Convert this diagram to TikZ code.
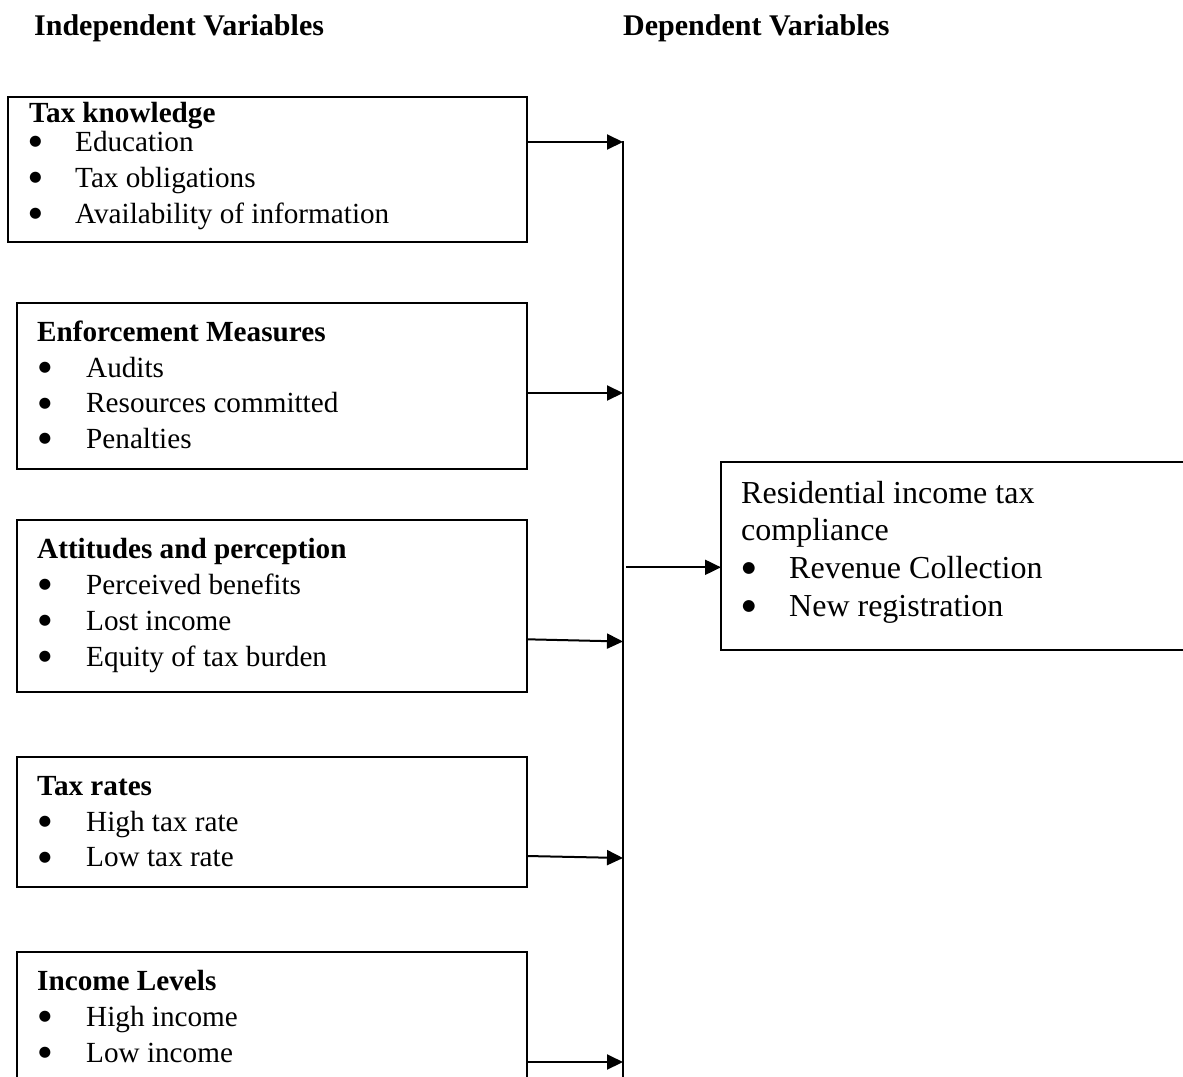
\documentclass[tikz,border=0pt]{standalone}
\usepackage{fontspec}
\setmainfont{Liberation Serif}
\newfontfamily\bulfont{DejaVu Sans}
\usetikzlibrary{arrows.meta}
\tikzset{
  boxnode/.style={draw, line width=2pt, inner sep=0pt, outer sep=0pt, anchor=north west},
  lefttxt/.style={anchor=base west, inner sep=0pt, font=\fontsize{29.2pt}{36pt}\selectfont},
  lefttitle/.style={anchor=base west, inner sep=0pt, font=\fontsize{29.2pt}{36pt}\selectfont\bfseries},
  bul/.style={anchor=base, inner sep=0pt, yshift=5.5pt, font=\bulfont\fontsize{14.5pt}{14.5pt}\selectfont},
  righttxt/.style={anchor=base west, inner sep=0pt, font=\fontsize{32pt}{38pt}\selectfont},
  rbul/.style={anchor=base, inner sep=0pt, yshift=6pt, font=\bulfont\fontsize{15.5pt}{15.5pt}\selectfont},
  head/.style={anchor=base west, inner sep=0pt, font=\fontsize{30pt}{36pt}\selectfont\bfseries},
  conn/.style={line width=2pt, -{Triangle[length=16pt,width=15pt]}},
  spine/.style={line width=1.6pt},
}
\begin{document}
\begin{tikzpicture}[x=1pt,y=-1pt]
\useasboundingbox (0,0) rectangle (1183,1076);
\clip (0,0) rectangle (1183,1076);
\fill[white] (0,0) rectangle (1183,1076);

% headers
\node[head] (hind) at (34,35) {Independent Variables};
\node[head] (hdep) at (623,35) {Dependent Variables};

% box 1
\node[boxnode, minimum width=519pt, minimum height=144.5pt] (b1) at (8,97) {};
\node[lefttitle] (b1t) at (29,122) {Tax knowledge};
\node[bul] (b1b1) at (35.5,151) {●};
\node[lefttxt] (b1i1) at (75,151) {Education};
\node[bul] (b1b2) at (35.5,187) {●};
\node[lefttxt] (b1i2) at (75,187) {Tax obligations};
\node[bul] (b1b3) at (35.5,223) {●};
\node[lefttxt] (b1i3) at (75,223) {Availability of information};

% box 2
\node[boxnode, minimum width=510pt, minimum height=166pt] (b2) at (17,303) {};
\node[lefttitle] (b2t) at (37,341.5) {Enforcement Measures};
\node[bul] (b2b1) at (45,377) {●};
\node[lefttxt] (b2i1) at (86,377) {Audits};
\node[bul] (b2b2) at (45,412.5) {●};
\node[lefttxt] (b2i2) at (86,412.5) {Resources committed};
\node[bul] (b2b3) at (45,448) {●};
\node[lefttxt] (b2i3) at (86,448) {Penalties};

% box 3
\node[boxnode, minimum width=510pt, minimum height=172pt] (b3) at (17,520) {};
\node[lefttitle] (b3t) at (37,558.5) {Attitudes and perception};
\node[bul] (b3b1) at (45,594) {●};
\node[lefttxt] (b3i1) at (86,594) {Perceived benefits};
\node[bul] (b3b2) at (45,630) {●};
\node[lefttxt] (b3i2) at (86,630) {Lost income};
\node[bul] (b3b3) at (45,666) {●};
\node[lefttxt] (b3i3) at (86,666) {Equity of tax burden};

% box 4
\node[boxnode, minimum width=510pt, minimum height=129.5pt] (b4) at (17,757) {};
\node[lefttitle] (b4t) at (37,795) {Tax rates};
\node[bul] (b4b1) at (45,831) {●};
\node[lefttxt] (b4i1) at (86,831) {High tax rate};
\node[bul] (b4b2) at (45,866.5) {●};
\node[lefttxt] (b4i2) at (86,866.5) {Low tax rate};

% box 5
\node[boxnode, minimum width=510pt, minimum height=150pt] (b5) at (17,952) {};
\node[lefttitle] (b5t) at (37,990.5) {Income Levels};
\node[bul] (b5b1) at (45,1026) {●};
\node[lefttxt] (b5i1) at (86,1026) {High income};
\node[bul] (b5b2) at (45,1062) {●};
\node[lefttxt] (b5i2) at (86,1062) {Low income};

% dependent box
\node[boxnode, minimum width=480pt, minimum height=188pt] (dv) at (721,461.5) {};
\node[righttxt] (dvt1) at (741,503) {Residential income tax};
\node[righttxt] (dvt2) at (741,540) {compliance};
\node[rbul] (dvb1) at (749,578) {●};
\node[righttxt] (dvi1) at (789,578) {Revenue Collection};
\node[rbul] (dvb2) at (749,616) {●};
\node[righttxt] (dvi2) at (789,616) {New registration};

% spine
\coordinate (vtop) at (623,141);
\coordinate (vbot) at (623,1085);
\draw[spine] (vtop) -- (vbot);

% junctions
\coordinate (j1) at (623,142);
\coordinate (j2) at (623,393);
\coordinate (j3) at (623,641.5);
\coordinate (j4) at (623,858);
\coordinate (j5) at (623,1062);
\coordinate (s3) at (527,639.3);
\coordinate (s4) at (527,856);
\coordinate (jm) at (626,567.3);

\draw[conn] (b1.east |- j1) -- (j1);
\draw[conn] (b2.east |- j2) -- (j2);
\draw[conn] (s3) -- (j3);
\draw[conn] (s4) -- (j4);
\draw[conn] (b5.east |- j5) -- (j5);
\draw[conn] (jm) -- (dv.west |- jm);
\end{tikzpicture}
\end{document}
